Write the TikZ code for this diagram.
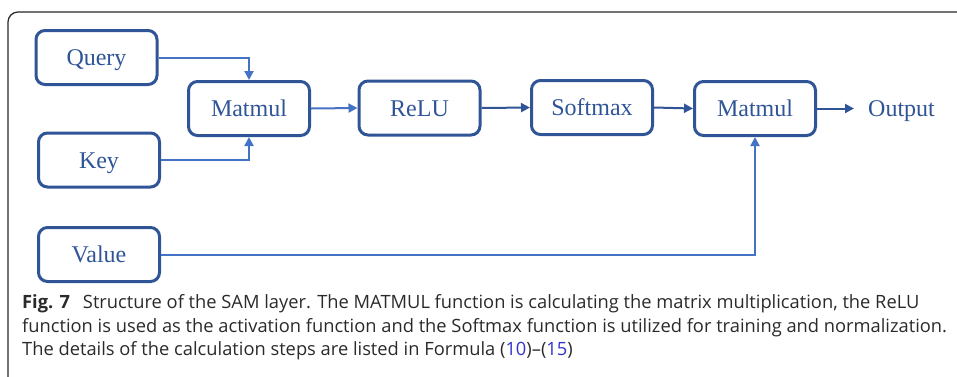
\documentclass[tikz,border=0pt]{standalone}
\usepackage{fontspec}
\setmainfont{Liberation Serif}
\newfontfamily\capfont{Open Sans}
\usetikzlibrary{arrows.meta}
\definecolor{boxblue}{HTML}{2F5597}
\definecolor{lineblue}{HTML}{4472C4}
\definecolor{captext}{HTML}{2A2A2A}
\definecolor{reflink}{HTML}{3333CC}
\tikzset{
  block/.style={draw=boxblue, line width=3pt, rounded corners=9pt,
    minimum width=121pt, minimum height=54pt, inner sep=0pt,
    text height=16pt, text depth=0pt,
    text=boxblue, font=\fontsize{24}{28}\selectfont},
  lightlink/.style={draw=lineblue, line width=2pt,
    -{Triangle[length=9pt,width=9pt]}},
  darklink/.style={draw=boxblue, line width=2pt,
    -{Triangle[length=9pt,width=9pt]}},
  capline/.style={anchor=base west, inner sep=0pt, text=captext,
    font=\capfont\fontsize{18.3}{22}\selectfont}
}
\begin{document}
\begin{tikzpicture}[x=1pt,y=-1pt]
\useasboundingbox (0,0) rectangle (957,376);
% outer frame, open on the right and bottom
\draw[line width=1.2pt, color=black!85, rounded corners=10pt] (8,380) -- (8,12) -- (962,12);

% blocks
\node[block] (q)  at (96.5,57.5) {Query};
\node[block] (k)  at (99,160)    {Key};
\node[block] (v)  at (99,254.5)  {Value};
\node[block] (m1) at (249,108.5) {Matmul};
\node[block] (r)  at (419.5,108) {ReLU};
\node[block] (s)  at (592,107.5) {Softmax};
\node[block] (m2) at (755,108.5) {Matmul};
\node[anchor=west, inner xsep=14pt, inner ysep=0pt, text=boxblue,
      text height=16pt, text depth=0pt,
      font=\fontsize{24}{28}\selectfont] (out) at (854,108.5) {Output};

% connectors
\draw[lightlink] (q.east) -| (m1.north);
\draw[lightlink] (k.east) -| (m1.south);
\draw[lightlink] (v.east) -| (m2.south);
\draw[lightlink] (m1.east) -- (r.west);
\draw[darklink]  (r.east) -- (s.west);
\draw[darklink]  (s.east) -- (m2.west);
\draw[darklink]  (m2.east) -- (out.west);

% caption
\node[capline] (c1) at (22,308) {\textbf{Fig. 7}\hspace{0.7em}Structure of the SAM layer. The MATMUL function is calculating the matrix multiplication, the ReLU};
\node[capline] (c2) at (22,332) {function is used as the activation function and the Softmax function is utilized for training and normalization.};
\node[capline] (c3) at (22,355) {The details of the calculation steps are listed in Formula (\textcolor{reflink}{10})–(\textcolor{reflink}{15})};
\end{tikzpicture}
\end{document}
